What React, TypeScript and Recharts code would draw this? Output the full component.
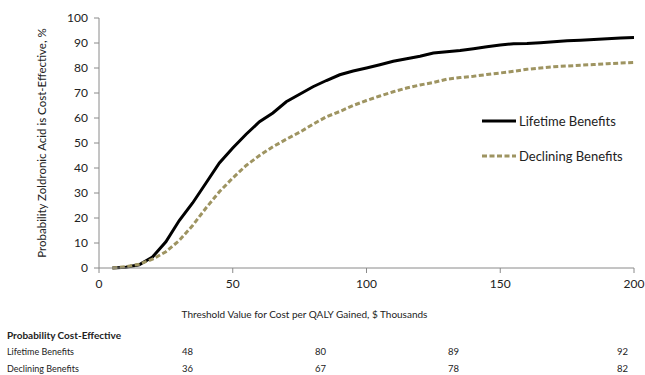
import { LineChart, Line, XAxis, YAxis } from 'recharts';

const thresholds = [5, 10, 15, 20, 25, 30, 35, 40, 45, 50, 55, 60, 65, 70, 75, 80, 85, 90, 95, 100, 105, 110, 115, 120, 125, 130, 135, 140, 145, 150, 155, 160, 165, 170, 175, 180, 185, 190, 195, 200];
const lifetime = [0, 0.3, 1.3, 4.4, 10.5, 19, 26, 34, 42, 48, 53.5, 58.5, 62, 66.5, 69.5, 72.5, 75, 77.3, 78.8, 80, 81.3, 82.7, 83.7, 84.7, 86, 86.5, 87, 87.7, 88.5, 89.2, 89.7, 89.8, 90.1, 90.5, 90.9, 91.1, 91.4, 91.7, 92, 92.2];
const declining = [0, 0.5, 1.5, 3.5, 6.5, 11, 17, 24, 30.5, 36, 41, 45, 48.5, 51.5, 54.3, 57.5, 60.5, 62.6, 65, 67, 68.8, 70.5, 72, 73.2, 74.2, 75.5, 76.2, 76.7, 77.4, 78, 78.7, 79.5, 80, 80.5, 80.8, 81.1, 81.4, 81.7, 82, 82.2];

const xTicks = [0, 50, 100, 150, 200];
const yTicks = [0, 10, 20, 30, 40, 50, 60, 70, 80, 90, 100];

const seriesNames = ['Lifetime Benefits', 'Declining Benefits'];
const tableTitle = 'Probability Cost-Effective';
const tableLifetime = ['48', '80', '89', '92'];
const tableDeclining = ['36', '67', '78', '82'];

const data = thresholds.map((t, i) => ({ t, lifetime: lifetime[i], declining: declining[i] }));

const FONT = "Lato, 'Liberation Sans', sans-serif";
const AXIS = '#8a8a8a';
const TEXT = '#222';
const OLIVE = '#9e9461';
const DASH = '5 2.5';
const colLeft = [182, 315, 448, 617];

function LegendBox() {
  const items = [
    { name: seriesNames[0], color: '#000', dash: undefined },
    { name: seriesNames[1], color: OLIVE, dash: DASH },
  ];
  return (
    <div style={{ position: 'absolute', left: 482, top: 103, fontFamily: FONT, fontSize: 13, color: TEXT }}>
      {items.map((it) => (
        <div key={it.name} style={{ display: 'flex', alignItems: 'center', height: 35, whiteSpace: 'nowrap' }}>
          <svg width={37} height={6}>
            <line x1={0} y1={3} x2={34} y2={3} stroke={it.color} strokeWidth={3} strokeDasharray={it.dash} />
          </svg>
          <span>{it.name}</span>
        </div>
      ))}
    </div>
  );
}

export default function App() {
  const rowStyle = { position: 'absolute' as const, left: 7, fontFamily: FONT, fontSize: 9, color: TEXT, whiteSpace: 'nowrap' as const, lineHeight: '12px' };
  return (
    <div style={{ position: 'absolute', left: 0, top: 0, width: 645, height: 375, background: '#fff' }}>
      <LineChart width={645} height={330} data={data} margin={{ top: 18, right: 11, left: 0, bottom: 30 }}>
        <XAxis
          dataKey="t"
          type="number"
          domain={[0, 200]}
          ticks={xTicks}
          interval={0}
          stroke={AXIS}
          tickSize={5}
          tickMargin={6}
          height={32}
          tick={{ fill: TEXT, fontSize: 12, fontFamily: FONT }}
          label={{ value: 'Threshold Value for Cost per QALY Gained, $ Thousands', position: 'bottom', offset: 11, dx: -62, style: { fill: TEXT, fontSize: 10, fontFamily: FONT } }}
        />
        <YAxis
          type="number"
          domain={[0, 100]}
          ticks={yTicks}
          interval={0}
          stroke={AXIS}
          width={99}
          tickSize={5}
          tickMargin={6}
          tick={{ fill: TEXT, fontSize: 12, fontFamily: FONT }}
          label={{ value: 'Probability Zoldronic Acid is Cost-Effective, %', angle: -90, position: 'insideLeft', offset: 42, style: { textAnchor: 'middle', fill: TEXT, fontSize: 11.5, fontFamily: FONT } }}
        />
        <Line type="linear" dataKey="lifetime" name={seriesNames[0]} stroke="#000" strokeWidth={3} dot={false} isAnimationActive={false} />
        <Line type="linear" dataKey="declining" name={seriesNames[1]} stroke={OLIVE} strokeWidth={3} strokeDasharray={DASH} dot={false} isAnimationActive={false} />
      </LineChart>
      <LegendBox />
      <div style={{ ...rowStyle, top: 329, fontWeight: 'bold', fontSize: 10 }}>{tableTitle}</div>
      <div style={{ ...rowStyle, top: 346 }}>{seriesNames[0]}</div>
      <div style={{ ...rowStyle, top: 363 }}>{seriesNames[1]}</div>
      {tableLifetime.map((v, i) => (
        <div key={'l' + i} style={{ ...rowStyle, fontSize: 9.5, left: colLeft[i], top: 346 }}>{v}</div>
      ))}
      {tableDeclining.map((v, i) => (
        <div key={'d' + i} style={{ ...rowStyle, fontSize: 9.5, left: colLeft[i], top: 363 }}>{v}</div>
      ))}
    </div>
  );
}
